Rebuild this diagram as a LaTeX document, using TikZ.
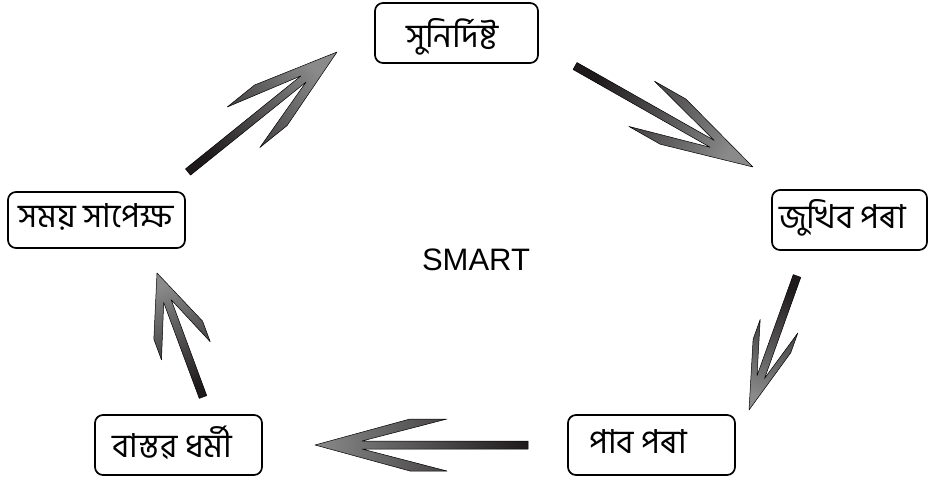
\documentclass[tikz,border=0pt]{standalone}
\usepackage{fontspec}
\setmainfont{Liberation Sans}
\newfontfamily\bnfont[Script=Bengali]{Hind Siliguri}
\usetikzlibrary{calc}
\definecolor{arrdark}{HTML}{1E1A1B}
\definecolor{arrlight}{HTML}{8A8A8A}
\tikzset{
  box/.style={draw=black, line width=1.7pt, rounded corners=8pt, inner sep=0pt},
  bntext/.style={font=\bnfont\fontsize{33}{40}\selectfont, anchor=base, inner sep=0pt},
  arrowbody/.style={draw=black, line width=0.5pt, line join=round, top color=arrdark, bottom color=arrlight}
}
% #1 tail, #2 tip, #3 kink, #4 back, #5 half width of head, #6 notch
\newcommand\smartarrow[6]{%
  \pgfmathanglebetweenpoints{\pgfpointanchor{#2}{center}}{\pgfpointanchor{#1}{center}}%
  \let\sang\pgfmathresult
  \pgfmathsetmacro\shang{\sang-90}%
  \path[arrowbody, shading angle=\shang]
    (#2)
    -- ($(#2)+(\sang:#3pt)+(\sang+90:#5pt)$)
    -- ($(#2)+(\sang:#4pt)+(\sang+90:#5pt)$)
    -- ($(#2)+(\sang:#6pt)+(\sang+90:4pt)$)
    -- ($(#1)+(\sang+90:4pt)$)
    -- ($(#1)+(\sang-90:4pt)$)
    -- ($(#2)+(\sang:#6pt)+(\sang-90:4pt)$)
    -- ($(#2)+(\sang:#4pt)+(\sang-90:#5pt)$)
    -- ($(#2)+(\sang:#3pt)+(\sang-90:#5pt)$)
    -- cycle;}
\begin{document}
\begin{tikzpicture}[x=1pt, y=-1pt]
\useasboundingbox (0,0) rectangle (929,481);
% boxes
\node[box, minimum width=163pt, minimum height=60pt] (b1) at (456.5,33) {};
\node[box, minimum width=155pt, minimum height=60pt] (b2) at (849.5,220) {};
\node[box, minimum width=167pt, minimum height=60pt] (b3) at (651.5,445) {};
\node[box, minimum width=167pt, minimum height=60pt] (b4) at (178.5,445) {};
\node[box, minimum width=177pt, minimum height=56pt] (b5) at (96.5,220) {};
% texts
\node[bntext] (t1) at (452.5,48) {সুনির্দিষ্ট};
\node[bntext] (t2) at (842.5,229) {জুখিব পৰা};
\node[bntext] (t3) at (638,453) {পাব পৰা};
\node[bntext] (t4) at (172.5,457) {বাস্তৱ ধৰ্মী};
\node[bntext] (t5) at (96.5,228) {সময় সাপেক্ষ};
\node[font=\fontsize{31}{36}\selectfont, anchor=base, inner sep=0pt] (smart) at (476,270) {SMART};
% arrow ends
\coordinate (a1s) at (575,66);  \coordinate (a1e) at (753,167);
\coordinate (a2s) at (797,276); \coordinate (a2e) at (749,410);
\coordinate (a3s) at (528,445); \coordinate (a3e) at (315,445);
\coordinate (a4s) at (203,397); \coordinate (a4e) at (157,273);
\coordinate (a5s) at (188,172); \coordinate (a5e) at (337,52);
\smartarrow{a1s}{a1e}{92}{128}{26}{47}
\smartarrow{a2s}{a2e}{68}{89}{20}{35}
\smartarrow{a3s}{a3e}{95}{132}{26}{47}
\smartarrow{a4s}{a4e}{61}{83}{26}{30}
\smartarrow{a5s}{a5e}{85}{120}{26}{43}
\end{tikzpicture}
\end{document}
